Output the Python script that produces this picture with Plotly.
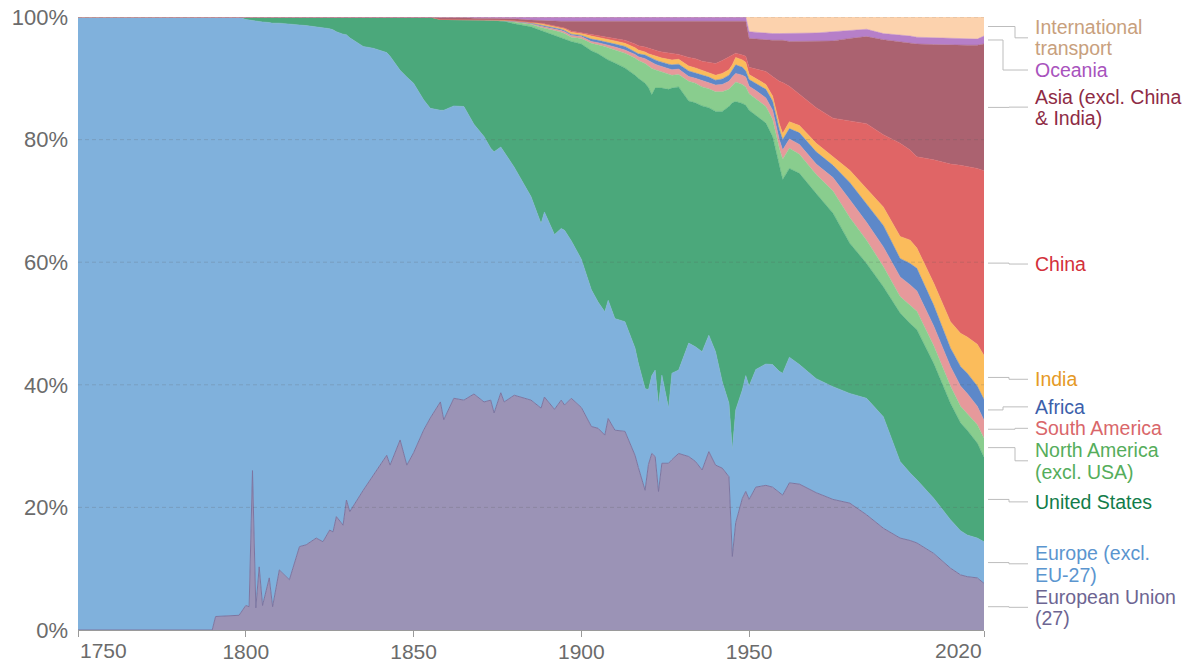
import plotly.graph_objects as go

# ---------------- data (shares of annual CO2 emissions, %) ----------------
years = [1750, 1789, 1790, 1791, 1798, 1800, 1801, 1802, 1803, 1804, 1805, 1807, 1808, 1810,
         1813, 1816, 1818, 1821, 1823, 1825, 1826, 1827, 1829, 1830, 1831, 1835, 1838, 1842,
         1843, 1846, 1848, 1850, 1853, 1855, 1858, 1859, 1862, 1865, 1868, 1871, 1873, 1874,
         1876, 1877, 1880, 1885, 1888, 1889, 1892, 1894, 1895, 1897, 1900, 1903, 1905, 1907,
         1908, 1910, 1913, 1916, 1917, 1919, 1920, 1921, 1922, 1923, 1924, 1926, 1927, 1929,
         1932, 1934, 1936, 1938, 1940, 1942, 1944, 1945, 1946, 1948, 1949, 1950, 1952, 1955,
         1957, 1959, 1960, 1962, 1965, 1970, 1975, 1980, 1985, 1990, 1995, 1998, 2000, 2005,
         2010, 2013, 2015, 2018, 2020]

european_union = [0, 0, 0, 2.2, 2.4, 4.0, 3.8, 26.0, 3.6, 10.3, 4.0, 8.5, 3.8, 9.8,
                  8.2, 13.6, 13.9, 15.0, 14.4, 16.3, 16.0, 18.5, 17.1, 21.2, 19.3, 22.8, 25.3, 28.5,
                  26.9, 31.0, 26.9, 28.9, 32.6, 34.6, 37.2, 34.3, 37.8, 37.5, 38.5, 37.2, 37.5, 35.4,
                  38.7, 37.2, 38.3, 37.5, 36.2, 38.0, 36.0, 37.5, 36.7, 37.8, 36.3, 33.2, 32.9, 31.8,
                  34.5, 32.6, 32.4, 28.5, 26.5, 22.8, 27.0, 28.8, 28.3, 22.6, 27.2, 27.2, 27.8, 28.8,
                  28.3, 27.5, 26.1, 29.1, 26.9, 26.4, 25.0, 12.0, 17.5, 21.5, 22.6, 21.3, 23.3, 23.6,
                  23.3, 22.5, 22.0, 24.0, 23.8, 22.4, 21.3, 20.7, 18.8, 16.6, 15.0, 14.6, 14.2, 12.5,
                  10.1, 9.0, 8.7, 8.5, 7.6]

europe_excl_eu = [100, 100, 100, 97.8, 97.6, 95.6, 95.7, 73.5, 95.8, 89.0, 95.2, 90.6, 95.2, 89.2,
                  90.6, 85.1, 84.7, 83.4, 83.9, 81.8, 81.9, 79.1, 80.1, 75.9, 77.3, 72.4, 69.6, 65.7,
                  66.7, 60.3, 63.3, 60.3, 53.9, 50.5, 47.6, 50.5, 47.7, 47.9, 44.0, 43.3, 41.1, 42.6,
                  40.1, 40.8, 37.2, 33.2, 30.1, 30.2, 28.5, 28.0, 28.5, 25.7, 24.2, 22.3, 20.6, 20.1,
                  19.3, 18.2, 17.9, 17.5, 17.0, 16.6, 12.2, 12.7, 14.1, 14.1, 14.4, 9.0, 14.1, 13.6,
                  18.5, 18.7, 19.3, 19.0, 18.5, 14.1, 12.0, 17.4, 18.4, 17.7, 18.9, 18.5, 19.2, 19.8,
                  20.0, 19.7, 19.9, 20.5, 19.5, 18.6, 18.4, 17.9, 19.0, 18.2, 12.5, 11.0, 10.3, 9.0,
                  7.9, 7.2, 6.8, 6.5, 6.8]

united_states = [0, 0, 0, 0, 0, 0.4, 0.5, 0.5, 0.6, 0.7, 0.8, 0.9, 1.0, 1.0,
                 1.2, 1.3, 1.4, 1.6, 1.7, 1.9, 2.1, 2.4, 2.8, 2.9, 3.4, 4.8, 5.1, 5.8,
                 6.4, 8.7, 9.8, 10.8, 13.5, 14.9, 14.8, 14.8, 14.1, 14.2, 17.0, 19.0, 20.8, 21.4,
                 20.5, 21.3, 23.4, 27.7, 31.5, 29.4, 32.5, 31.2, 31.3, 32.5, 35.1, 39.0, 40.5, 41.4,
                 39.2, 41.7, 41.4, 44.5, 46.5, 49.8, 49.3, 45.8, 46.0, 51.7, 46.8, 52.0, 46.5, 46.2,
                 39.5, 39.8, 40.1, 37.1, 39.2, 44.1, 48.4, 56.6, 50.3, 46.7, 44.1, 45.0, 41.5, 39.3,
                 37.2, 33.3, 31.6, 30.8, 31.2, 30.2, 28.3, 24.5, 22.0, 21.2, 24.2, 24.4, 24.5, 22.0,
                 19.0, 17.6, 17.1, 15.5, 13.8]

north_america_excl_usa = [0, 0, 0, 0, 0, 0, 0, 0, 0, 0, 0, 0, 0, 0,
                          0, 0, 0, 0, 0, 0, 0, 0, 0, 0, 0, 0, 0, 0,
                          0, 0, 0, 0, 0, 0, 0, 0, 0, 0, 0, 0, 0.1, 0.1,
                          0.1, 0.1, 0.3, 0.4, 0.5, 0.6, 0.8, 0.8, 0.8, 0.7, 0.9, 1.2, 1.5, 1.9,
                          2.0, 2.1, 2.4, 2.8, 2.9, 3.2, 3.5, 4.3, 3.0, 2.8, 2.6, 2.4, 2.1, 2.0,
                          3.2, 3.2, 3.1, 3.1, 3.2, 3.2, 2.8, 2.8, 3.2, 3.1, 3.0, 2.7, 2.7, 2.7,
                          2.8, 3.1, 3.3, 3.3, 3.1, 3.1, 3.6, 4.2, 3.8, 3.3, 2.7, 3.0, 3.0, 2.9,
                          2.8, 2.7, 2.7, 3.0, 3.1]

south_america = [0, 0, 0, 0, 0, 0, 0, 0, 0, 0, 0, 0, 0, 0,
                 0, 0, 0, 0, 0, 0, 0, 0, 0, 0, 0, 0, 0, 0,
                 0, 0, 0, 0, 0, 0, 0, 0, 0, 0, 0, 0, 0, 0,
                 0, 0, 0.05, 0.1, 0.2, 0.2, 0.2, 0.3, 0.3, 0.3, 0.3, 0.3, 0.3, 0.4,
                 0.4, 0.5, 0.5, 0.6, 0.6, 0.8, 0.9, 0.9, 0.9, 0.9, 0.9, 0.9, 0.9, 0.9,
                 0.8, 0.8, 1.0, 1.0, 1.1, 1.2, 1.3, 1.4, 1.4, 1.5, 1.6, 1.2, 1.3, 1.4,
                 1.5, 1.4, 1.5, 1.5, 1.6, 1.7, 2.2, 2.9, 2.9, 3.2, 3.2, 3.3, 3.3, 3.2,
                 3.2, 3.3, 3.3, 3.0, 2.9]

africa = [0, 0, 0, 0, 0, 0, 0, 0, 0, 0, 0, 0, 0, 0,
          0, 0, 0, 0, 0, 0, 0, 0, 0, 0, 0, 0, 0, 0,
          0, 0, 0, 0, 0, 0, 0, 0, 0, 0, 0, 0, 0, 0,
          0, 0, 0.05, 0.1, 0.2, 0.2, 0.2, 0.2, 0.2, 0.2, 0.2, 0.4, 0.4, 0.4,
          0.4, 0.5, 0.6, 0.5, 0.5, 0.6, 0.6, 0.7, 0.7, 0.7, 0.7, 0.8, 0.8, 0.8,
          0.9, 0.9, 0.9, 0.9, 0.8, 0.9, 1.0, 1.1, 1.4, 1.3, 1.0, 1.1, 1.2, 1.4,
          1.5, 1.7, 1.7, 1.7, 1.9, 2.0, 2.0, 2.8, 3.0, 3.5, 3.0, 3.5, 3.7, 3.4,
          3.0, 3.2, 3.3, 3.3, 3.4]

india = [0, 0, 0, 0, 0, 0, 0, 0, 0, 0, 0, 0, 0, 0,
         0, 0, 0, 0, 0, 0, 0, 0, 0, 0, 0, 0, 0, 0,
         0, 0, 0, 0, 0, 0, 0, 0, 0, 0, 0, 0, 0, 0,
         0.1, 0.1, 0.1, 0.2, 0.2, 0.2, 0.3, 0.3, 0.3, 0.3, 0.3, 0.5, 0.5, 0.5,
         0.5, 0.5, 0.5, 0.6, 0.6, 0.5, 0.5, 0.6, 0.6, 0.7, 0.7, 0.8, 0.8, 0.8,
         0.8, 0.8, 0.8, 0.8, 0.8, 0.9, 0.9, 0.9, 1.2, 1.2, 1.4, 0.8, 0.8, 0.8,
         0.8, 0.9, 1.0, 1.1, 1.2, 1.4, 1.4, 2.0, 2.5, 3.0, 3.6, 3.8, 3.3, 3.6,
         4.3, 5.4, 5.9, 6.8, 7.2]

china = [0, 0, 0, 0, 0, 0, 0, 0, 0, 0, 0, 0, 0, 0,
         0, 0, 0, 0, 0, 0, 0, 0, 0, 0, 0, 0, 0, 0,
         0, 0, 0, 0, 0, 0, 0, 0, 0, 0, 0, 0, 0, 0,
         0, 0, 0, 0, 0.1, 0.1, 0.1, 0.1, 0.1, 0.2, 0.1, 0.2, 0.2, 0.2,
         0.3, 0.3, 0.5, 0.6, 0.7, 0.8, 0.9, 0.9, 0.9, 0.9, 1.0, 1.0, 1.0, 0.8,
         1.4, 1.5, 1.5, 1.6, 1.9, 2.1, 2.1, 1.7, 0.7, 0.8, 1.0, 1.2, 1.5, 2.1,
         3.2, 6.9, 8.3, 5.8, 5.1, 5.8, 6.3, 8.0, 10.6, 11.8, 15.2, 14.7, 14.9, 20.1,
         25.7, 27.4, 27.8, 28.7, 30.1]

asia_excl_china_india = [0, 0, 0, 0, 0, 0, 0, 0, 0, 0, 0, 0, 0, 0,
                         0, 0, 0, 0, 0, 0, 0, 0, 0, 0, 0, 0, 0, 0,
                         0, 0, 0, 0, 0, 0, 0.3, 0.3, 0.3, 0.3, 0.3, 0.3, 0.3, 0.3,
                         0.3, 0.3, 0.3, 0.3, 0.4, 0.5, 0.7, 0.9, 1.1, 1.6, 1.9, 2.2, 2.4, 2.6,
                         2.7, 2.9, 3.1, 3.7, 4.0, 4.2, 4.4, 4.6, 4.8, 4.9, 5.0, 5.2, 5.3, 5.4,
                         5.9, 6.1, 6.5, 6.7, 6.9, 6.4, 5.8, 5.4, 5.2, 5.5, 5.7, 4.7, 4.9, 5.2,
                         5.9, 6.7, 6.9, 7.3, 8.6, 10.8, 12.6, 13.5, 14.2, 15.5, 16.6, 17.5, 18.4, 18.8,
                         19.4, 19.6, 19.8, 20.1, 20.7]

oceania = [0, 0, 0, 0, 0, 0, 0, 0, 0, 0, 0, 0, 0, 0,
           0, 0, 0, 0, 0, 0, 0, 0, 0, 0, 0, 0, 0, 0,
           0, 0, 0, 0, 0, 0, 0.1, 0.1, 0.1, 0.1, 0.2, 0.2, 0.2, 0.2,
           0.2, 0.2, 0.3, 0.5, 0.6, 0.6, 0.7, 0.7, 0.7, 0.7, 0.7, 0.7, 0.7, 0.7,
           0.7, 0.7, 0.7, 0.7, 0.7, 0.7, 0.7, 0.7, 0.7, 0.7, 0.7, 0.7, 0.7, 0.7,
           0.7, 0.7, 0.7, 0.7, 0.7, 0.7, 0.7, 0.7, 0.7, 0.7, 0.7, 1.1, 1.1, 1.1,
           1.1, 1.1, 1.1, 1.3, 1.3, 1.4, 1.5, 1.3, 1.2, 1.0, 1.1, 1.1, 1.1, 1.1,
           1.1, 1.1, 1.1, 1.0, 1.3]

international_transport = [0, 0, 0, 0, 0, 0, 0, 0, 0, 0, 0, 0, 0, 0,
                           0, 0, 0, 0, 0, 0, 0, 0, 0, 0, 0, 0, 0, 0,
                           0, 0, 0, 0, 0, 0, 0, 0, 0, 0, 0, 0, 0, 0,
                           0, 0, 0, 0, 0, 0, 0, 0, 0, 0, 0, 0, 0, 0,
                           0, 0, 0, 0, 0, 0, 0, 0, 0, 0, 0, 0, 0, 0,
                           0, 0, 0, 0, 0, 0, 0, 0, 0, 0, 0, 2.4, 2.5, 2.6,
                           2.7, 2.7, 2.7, 2.7, 2.7, 2.6, 2.4, 2.2, 2.0, 2.7, 2.9, 3.1, 3.3, 3.4,
                           3.5, 3.5, 3.5, 3.6, 3.1]

tick_years = [1750, 1800, 1850, 1900, 1950, 2020]
y_ticks = [0, 20, 40, 60, 80, 100]

# name, values, fill colour, label colour, label lines (text, y%), label-centre y%, elbow x (px)
series = [
    ("European Union (27)", european_union, "#9b93b6", "#6d6592",
     [("European Union", 5.4), ("(27)", 1.9)], 3.7, 1009),
    ("Europe (excl. EU-27)", europe_excl_eu, "#80b1dc", "#5b95cf",
     [("Europe (excl.", 12.5), ("EU-27)", 9.0)], 10.8, 1009),
    ("United States", united_states, "#4ba87b", "#127c4a",
     [("United States", 20.9)], 20.9, 1009),
    ("North America (excl. USA)", north_america_excl_usa, "#89cd8e", "#55ad5b",
     [("North America", 29.4), ("(excl. USA)", 25.8)], 27.6, 1015),
    ("South America", south_america, "#e6999b", "#d9666a",
     [("South America", 32.9)], 32.9, 1015),
    ("Africa", africa, "#5d88c9", "#3c5fab",
     [("Africa", 36.4)], 36.4, 1003),
    ("India", india, "#fbbc5b", "#e59a26",
     [("India", 40.9)], 40.9, 1009),
    ("China", china, "#e06566", "#d3303a",
     [("China", 59.7)], 59.7, 1009),
    ("Asia (excl. China & India)", asia_excl_china_india, "#ab6270", "#8e2b45",
     [("Asia (excl. China", 87.0), ("& India)", 83.5)], 85.3, 1009),
    ("Oceania", oceania, "#b67fc9", "#a853bd",
     [("Oceania", 91.35)], 91.35, 1003),
    ("International transport", international_transport, "#fcd2ad", "#c8a07d",
     [("International", 98.3), ("transport", 94.9)], 96.6, 1015),
]

FONT = "Liberation Sans, Arial, Helvetica, sans-serif"
L, R_EDGE, T, B = 78, 984, 17, 630
W, H = 1183, 664
PW = R_EDGE - L


def px_to_paper(px):
    return (px - L) / PW


fig = go.Figure()
for i, (name, vals, fill, lab, _, _, _) in enumerate(series):
    line_col = "#7d75a0" if i == 0 else fill
    kw = dict(groupnorm="percent") if i == 0 else {}
    fig.add_trace(go.Scatter(
        x=years, y=vals, name=name, mode="lines", stackgroup="one",
        line=dict(width=1.0 if i == 0 else 0.5, color=line_col),
        fillcolor=fill, hoverinfo="skip", **kw))

shapes = []
# dashed grid lines drawn above the areas
for v in y_ticks[1:]:
    shapes.append(dict(type="line", xref="paper", yref="y", x0=0, x1=1, y0=v, y1=v,
                       line=dict(color="rgba(90,90,90,0.22)", width=1, dash="4px,3px"),
                       layer="above"))

annotations = []
# connector lines + labels, start point = band centre at last year
last = len(years) - 1
total_last = sum(s[1][last] for s in series)
cum = 0.0
for name, vals, fill, lab, lines, ycenter, elbow in series:
    share = vals[last] / total_last * 100
    mid = cum + share / 2
    cum += share
    x0 = px_to_paper(988)
    xe = px_to_paper(elbow)
    x1 = px_to_paper(1028)
    path = f"M {x0},{mid} L {xe},{mid} L {xe},{ycenter} L {x1},{ycenter}"
    shapes.append(dict(type="path", xref="paper", yref="y", path=path,
                       line=dict(color="#bdbdbd", width=1)))
    for text, yv in lines:
        annotations.append(dict(xref="paper", yref="y", x=px_to_paper(1033), y=yv,
                                text=text, showarrow=False, xanchor="left", yanchor="middle",
                                font=dict(family=FONT, size=19.5, color=lab)))

# first and last x tick labels aligned to the plot edges
annotations.append(dict(xref="x", yref="paper", x=tick_years[0], y=0, yshift=-20,
                        text=str(tick_years[0]), showarrow=False, xanchor="left",
                        yanchor="middle", font=dict(family=FONT, size=21, color="#6b6b6b")))
annotations.append(dict(xref="x", yref="paper", x=tick_years[-1], y=0, yshift=-20,
                        text=str(tick_years[-1]), showarrow=False, xanchor="right",
                        yanchor="middle", font=dict(family=FONT, size=21, color="#6b6b6b")))

fig.update_layout(
    width=W, height=H, autosize=False,
    margin=dict(l=L, r=W - R_EDGE, t=T, b=H - B, pad=0, autoexpand=False),
    plot_bgcolor="white", paper_bgcolor="white",
    showlegend=False, hovermode=False,
    font=dict(family=FONT, color="#6b6b6b"),
    shapes=shapes, annotations=annotations,
    xaxis=dict(range=[tick_years[0], tick_years[-1]], tickvals=tick_years,
               ticktext=[""] + [str(t) for t in tick_years[1:-1]] + [""],
               ticks="outside", ticklen=6, tickcolor="#9a9a9a", showline=True,
               linecolor="#9a9a9a", linewidth=1, showgrid=False, zeroline=False,
               automargin=False, ticklabelstandoff=-3,
               tickfont=dict(family=FONT, size=21, color="#6b6b6b"), fixedrange=True),
    yaxis=dict(range=[0, 100], tickvals=y_ticks, ticktext=[f"{v}%" for v in y_ticks],
               ticks="", showgrid=False, zeroline=False, showline=False,
               ticklabelstandoff=9, automargin=False,
               tickfont=dict(family=FONT, size=22, color="#6b6b6b"), fixedrange=True),
)

fig.write_html("out.html", config={"displayModeBar": False},
               post_script="document.body.style.margin='0px';document.body.style.overflow='hidden';")
